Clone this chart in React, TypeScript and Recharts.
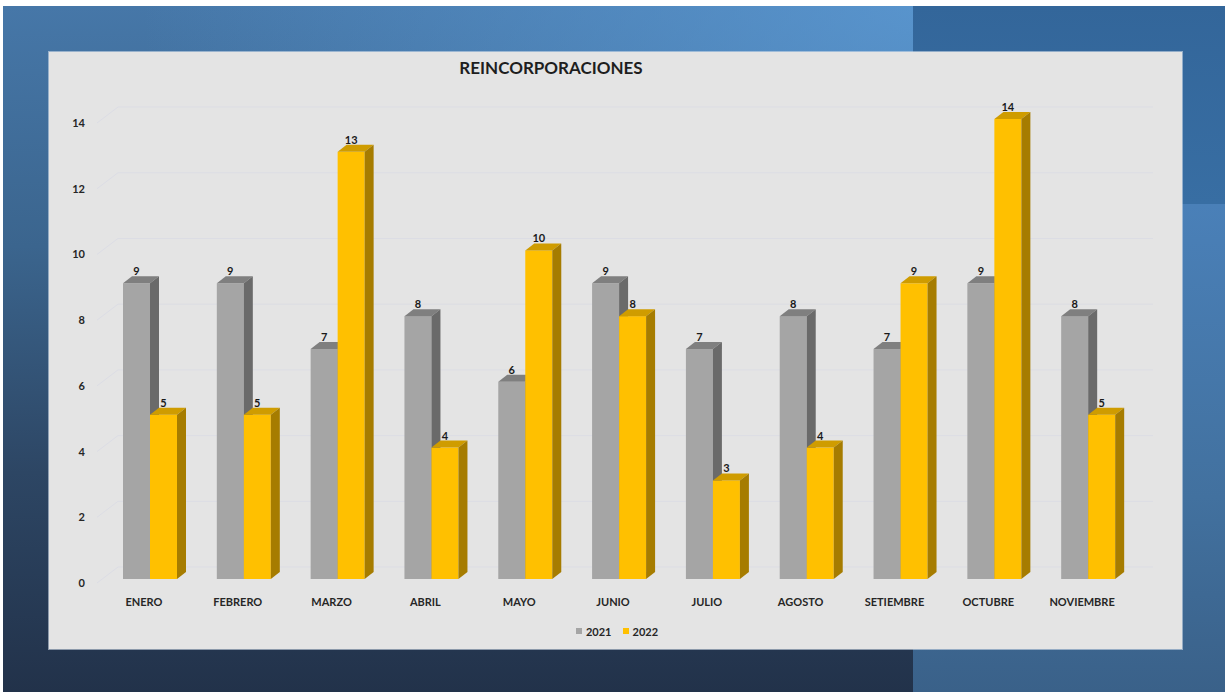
import React from "react";
import {
  BarChart,
  Bar,
  XAxis,
  YAxis,
  CartesianGrid,
  Legend,
  LabelList,
} from "recharts";

const months = [
  "ENERO",
  "FEBRERO",
  "MARZO",
  "ABRIL",
  "MAYO",
  "JUNIO",
  "JULIO",
  "AGOSTO",
  "SETIEMBRE",
  "OCTUBRE",
  "NOVIEMBRE",
];
const values2021 = [9, 9, 7, 8, 6, 9, 7, 8, 7, 9, 8];
const values2022 = [5, 5, 13, 4, 10, 8, 3, 4, 9, 14, 5];
const yTicks = [0, 2, 4, 6, 8, 10, 12, 14];

const chartData = months.map((m, i) => ({
  month: m,
  y2021: values2021[i],
  y2022: values2022[i],
}));

const FONT = "Lato, 'Open Sans', sans-serif";
const DX = 9;
const DY = 7;

// front / top / side colours for the fake 3d columns
function column3D(front: string, top: string, side: string) {
  return (p: any) => {
    const { x, y, width: w, height: h } = p;
    if (h == null || w == null) return <g />;
    return (
      <g>
        <rect x={x} y={y} width={w} height={h} fill={front} />
        <polygon
          points={`${x},${y} ${x + DX},${y - DY} ${x + w + DX},${y - DY} ${x + w},${y}`}
          fill={top}
        />
        <polygon
          points={`${x + w},${y} ${x + w + DX},${y - DY} ${x + w + DX},${y + h - DY} ${x + w},${y + h}`}
          fill={side}
        />
      </g>
    );
  };
}

const gridLine = (p: any) => {
  const { x1, x2, y1 } = p;
  const stroke = "#dcdde4";
  return (
    <g key={`g-${y1}`}>
      <line x1={x1 - 6} y1={y1 + 4} x2={x1 + 15} y2={y1 - 12} stroke={stroke} strokeWidth={1} />
      <line x1={x1 + 15} y1={y1 - 12} x2={x2 + 18} y2={y1 - 12} stroke={stroke} strokeWidth={1} />
    </g>
  );
};

const XTick = (p: any) => {
  const { x, y, payload } = p;
  return (
    <text
      x={x - 6}
      y={y}
      dy={27}
      textAnchor="middle"
      fontFamily={FONT}
      fontWeight={700}
      fontSize={11}
      fill="#262626"
    >
      {payload.value}
    </text>
  );
};

const YTick = (p: any) => {
  const { y, payload } = p;
  return (
    <text
      x={36}
      y={y}
      dy={8}
      textAnchor="end"
      fontFamily={FONT}
      fontWeight={700}
      fontSize={11}
      fill="#262626"
    >
      {payload.value}
    </text>
  );
};

const LegendBox = () => (
  <div
    style={{
      height: 30,
      paddingLeft: 50,
      display: "flex",
      justifyContent: "center",
      alignItems: "center",
      fontFamily: FONT,
      fontWeight: 700,
      fontSize: 11,
      color: "#262626",
    }}
  >
    <span style={{ width: 6, height: 6, background: "#a5a5a5", marginRight: 4 }} />
    <span style={{ marginRight: 11 }}>2021</span>
    <span style={{ width: 6, height: 6, background: "#ffc000", marginRight: 4 }} />
    <span>2022</span>
  </div>
);

export default function App() {
  return (
    <div
      style={{
        position: "absolute",
        left: 0,
        top: 0,
        width: 1225,
        height: 692,
        background: "#ffffff",
        overflow: "hidden",
      }}
    >
      {/* backdrop */}
      <div
        style={{
          position: "absolute",
          left: 3,
          top: 6,
          width: 910,
          height: 686,
          background:
            "radial-gradient(ellipse at 100% 0%, rgba(96,160,220,0.7) 0%, rgba(96,160,220,0) 60%), linear-gradient(180deg, #4677a8 0%, #3b658e 35%, #2d4664 68%, #22324a 100%)",
        }}
      />
      <div
        style={{
          position: "absolute",
          left: 913,
          top: 6,
          width: 312,
          height: 198,
          background: "linear-gradient(180deg, #33669a 0%, #386ea3 100%)",
        }}
      />
      <div
        style={{
          position: "absolute",
          left: 913,
          top: 204,
          width: 312,
          height: 488,
          background: "linear-gradient(180deg, #4a80b8 0%, #42719f 60%, #3a6189 100%)",
        }}
      />

      {/* panel */}
      <div
        style={{
          position: "absolute",
          left: 49,
          top: 52,
          width: 1133,
          height: 597,
          background: "#e4e4e4",
          boxShadow: "0 0 0 1px rgba(210,220,232,0.6)",
        }}
      >
        <div
          style={{
            position: "absolute",
            left: 0,
            width: 1004,
            top: 5,
            textAlign: "center",
            fontFamily: FONT,
            fontWeight: 700,
            fontSize: 17,
            color: "#1e1e1e",
          }}
        >
          REINCORPORACIONES
        </div>
        <BarChart
          width={1133}
          height={597}
          data={chartData}
          margin={{ top: 67, right: 47, left: 0, bottom: 3 }}
          barGap={0}
          barSize={27}
        >
          <CartesianGrid vertical={false} horizontal={gridLine} />
          <XAxis
            dataKey="month"
            axisLine={false}
            tickLine={false}
            tickSize={0}
            tickMargin={0}
            height={37}
            interval={0}
            tick={<XTick />}
          />
          <YAxis
            domain={[0, 14]}
            ticks={yTicks}
            axisLine={false}
            tickLine={false}
            width={54}
            tick={<YTick />}
          />
          <Legend verticalAlign="bottom" height={30} content={<LegendBox />} />
          <Bar
            dataKey="y2021"
            name="2021"
            fill="#a5a5a5"
            isAnimationActive={false}
            shape={column3D("#a5a5a5", "#7f7f7f", "#6a6a6a")}
          >
            <LabelList
              dataKey="y2021"
              position="top"
              offset={8}
              fontFamily={FONT}
              fontWeight={700}
              fontSize={11}
              fill="#1a1a1a"
            />
          </Bar>
          <Bar
            dataKey="y2022"
            name="2022"
            fill="#ffc000"
            isAnimationActive={false}
            shape={column3D("#ffc000", "#cf9c00", "#a67c00")}
          >
            <LabelList
              dataKey="y2022"
              position="top"
              offset={8}
              fontFamily={FONT}
              fontWeight={700}
              fontSize={11}
              fill="#1a1a1a"
            />
          </Bar>
        </BarChart>
      </div>
    </div>
  );
}
